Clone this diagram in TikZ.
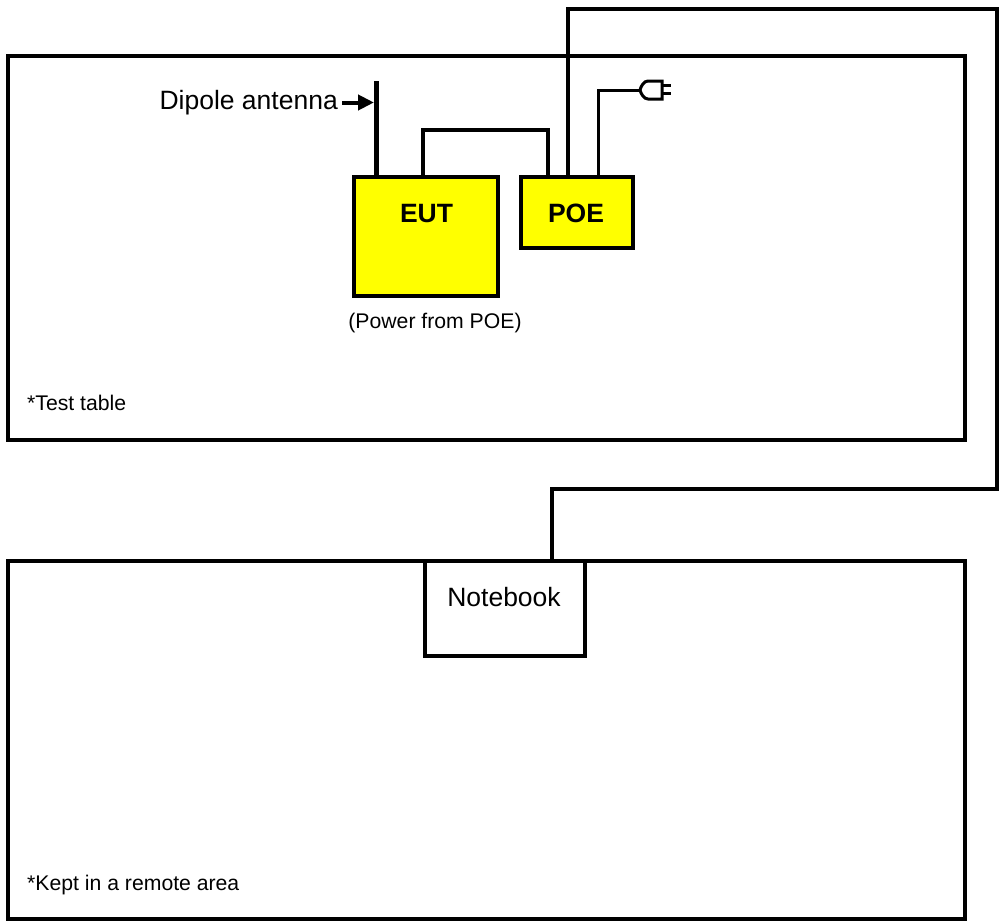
\documentclass[tikz,border=0pt]{standalone}
\usepackage{fontspec}
\setmainfont{Liberation Sans}
\usepackage{tikz}
\usetikzlibrary{arrows.meta}
\definecolor{devyellow}{RGB}{255,255,0}
\tikzset{
  area/.style={rectangle, draw, line width=4pt, inner sep=0pt, anchor=north west},
  device/.style={rectangle, draw, line width=4pt, fill=devyellow, inner sep=0pt, anchor=north west},
  laptop/.style={rectangle, draw, fill=white, line width=4pt, inner sep=0pt, anchor=north west},
  caption/.style={inner sep=0pt, font=\fontsize{21.2}{25}\selectfont},
  bigtext/.style={inner sep=0pt, font=\fontsize{26.5}{30}\selectfont},
  devtext/.style={inner sep=0pt, font=\fontsize{26.5}{30}\selectfont\bfseries},
  wire/.style={line width=3pt, line join=miter},
  cable/.style={line width=4pt, line join=miter}
}

\begin{document}
\begin{tikzpicture}[x=1pt, y=-1pt]
  \useasboundingbox (0,0) rectangle (1001,921);

  \node[area, minimum width=957pt, minimum height=384pt] (table) at (6,54) {};
  \node[area, minimum width=957pt, minimum height=358pt] (remote) at (6,559) {};
  \node[device, minimum width=144pt, minimum height=119pt] (EUT) at (352,175) {};
  \node[device, minimum width=112pt, minimum height=71pt] (POE) at (519,175) {};
  \node[laptop, minimum width=160pt, minimum height=95pt] (notebook) at (423,559) {};

  \node[devtext, anchor=base] (EUTtext) at (426.5,222) {EUT};
  \node[devtext, anchor=base] (POEtext) at (576,222) {POE};
  \node[bigtext, anchor=base] (notebooktext) at (504,606) {Notebook};
  \node[bigtext, anchor=base east] (antennatext) at (338,109.5) {Dipole antenna};
  \node[caption, anchor=base] (powertext) at (435,328.5) {(Power from POE)};
  \node[caption, anchor=base west] (tabletext) at (27,410) {*Test table};
  \node[caption, anchor=base west] (remotetext) at (27,890.5) {*Kept in a remote area};

  % antenna and its pointer
  \coordinate (antennatop) at (376.5,81);
  \coordinate (pointer) at (374,102.5);
  \draw[line width=5pt] (EUT.north -| antennatop) -- (antennatop);
  \draw[line width=4pt, -{Triangle[length=16pt, width=15pt]}] (antennatext.east |- pointer) ++(4,0) -- (pointer);

  % EUT to POE
  \coordinate (linkleft) at (423,130);
  \coordinate (linkright) at (547.5,130);
  \draw[cable] (EUT.north -| linkleft) -- (linkleft) -- (linkright) -- (POE.north -| linkright);

  % POE to notebook
  \coordinate (cableA) at (568,9);
  \coordinate (cableB) at (997,9);
  \coordinate (cableC) at (997,489);
  \coordinate (cableD) at (552,489);
  \draw[cable] (POE.north -| cableA) -- (cableA) -- (cableB) -- (cableC) -- (cableD) -- (notebook.north -| cableD);

  % mains plug
  \coordinate (plugend) at (640,90);
  \coordinate (plugbend) at (598.5,90);
  \draw[wire] (POE.north -| plugbend) -- (plugbend) -- (plugend);
  \draw[wire] (662,81) -- (648,81) .. controls (644,81) and (641,86) .. (plugend)
    .. controls (641,94) and (644,99) .. (648,99) -- (662,99) -- cycle;
  \draw[wire] (662,85) -- (671,85);
  \draw[wire] (662,93) -- (671,93);
\end{tikzpicture}
\end{document}
